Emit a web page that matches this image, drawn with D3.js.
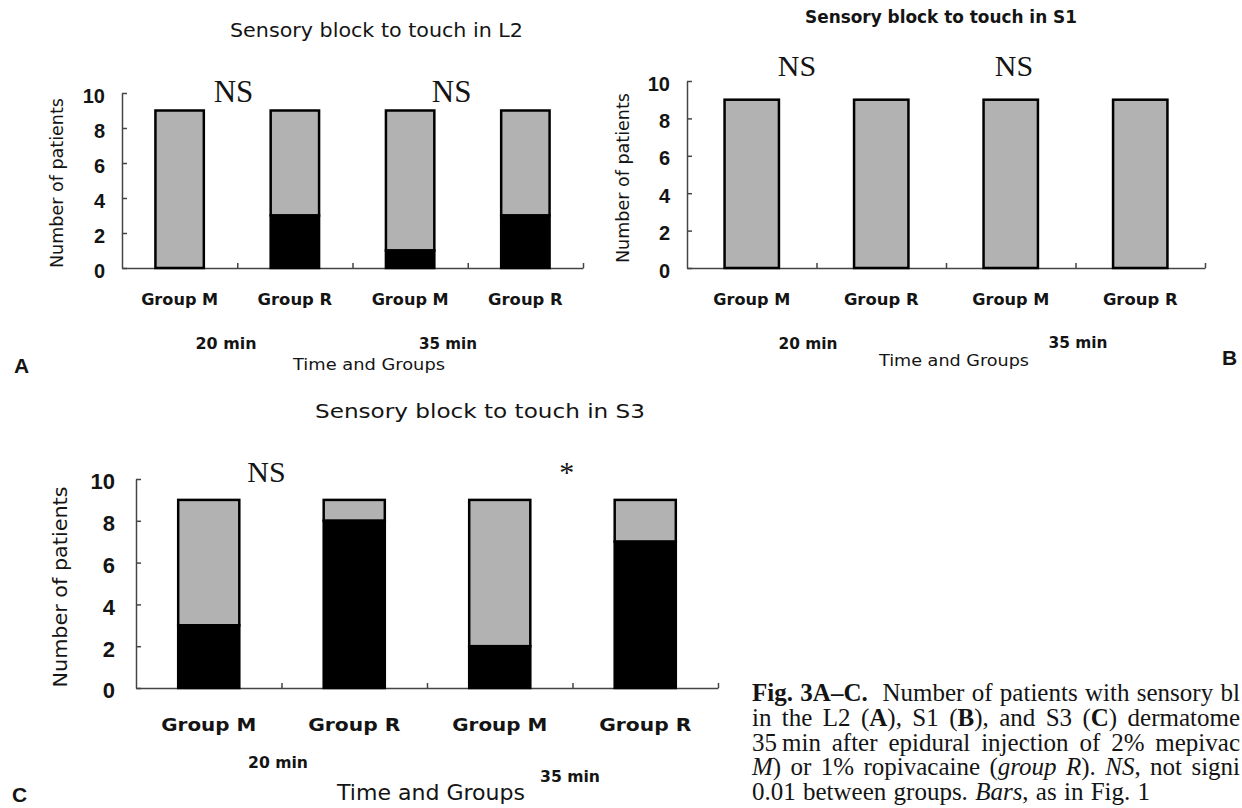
<!DOCTYPE html>
<html>
<head>
<meta charset="utf-8">
<script src="https://cdn.jsdelivr.net/npm/d3@7"></script>
<style>
  html, body { margin: 0; padding: 0; background: #fff; overflow: hidden; }
  svg { display: block; }
</style>
</head>
<body>
<svg id="fig" width="1242" height="808"></svg>
<script>
// ---- data ---------------------------------------------------------------
// Bars along the x axis: two groups, each measured at two times
const groups = ["Group M", "Group R", "Group M", "Group R"];
const times = ["20 min", "35 min"];
const yTicks = [0, 2, 4, 6, 8, 10];

// Number of patients per bar (whole bar) and with sensory block (black part)
const totalL2 = [9, 9, 9, 9];
const blockL2 = [0, 3, 1, 3];
const totalS1 = [9, 9, 9, 9];
const blockS1 = [0, 0, 0, 0];
const totalS3 = [9, 9, 9, 9];
const blockS3 = [3, 8, 2, 7];

// Significance marks for each time point
const sigL2 = ["NS", "NS"];
const sigS1 = ["NS", "NS"];
const sigS3 = ["NS", "*"];

const titles = [
  "Sensory block to touch in L2",
  "Sensory block to touch in S1",
  "Sensory block to touch in S3"
];

// ---- styling / layout -----------------------------------------------------
const SANS = "'DejaVu Sans', 'Noto Sans', sans-serif";
const DIGITS = "'Liberation Sans', Arial, sans-serif";
const SERIF = "'Liberation Serif', 'Times New Roman', serif";
const INK = "#141414";
const GRAY = "#b2b2b2";
const AXIS = "#444";

const panels = [
  { letter: "A", title: titles[0], total: totalL2, block: blockL2, sig: sigL2,
    x0: 122, x1: 583, yTop: 93, yBase: 268,
    titleX: 376.5, titleY: 37, titleSize: 19, titleW: 293, titleWeight: "normal",
    sigAt: [0.967, 2.86], sigY: 102, sigSize: 31,
    tickSize: 20, tickPad: 17,
    yTitleX: 63, yTitleY: 183, yTitleSize: 17, yTitleW: 170,
    groupY: 305, groupSize: 15, groupW: 77,
    timeX: [226, 448], timeY: [349, 349], timeSize: 15, timeW: [61, 58],
    axisTitleX: 369, axisTitleY: 370, axisTitleSize: 16, axisTitleW: 152,
    letterX: 14, letterY: 373, letterSize: 21 },
  { letter: "B", title: titles[1], total: totalS1, block: blockS1, sig: sigS1,
    x0: 687, x1: 1205, yTop: 81, yBase: 268,
    titleX: 941, titleY: 23, titleSize: 17, titleW: 272, titleWeight: "bold",
    sigAt: [0.849, 2.525], sigY: 76, sigSize: 30,
    tickSize: 20, tickPad: 17,
    yTitleX: 629, yTitleY: 178, yTitleSize: 17, yTitleW: 170,
    groupY: 305, groupSize: 15, groupW: 77,
    timeX: [808, 1078], timeY: [349, 348], timeSize: 15, timeW: [59, 59],
    axisTitleX: 954, axisTitleY: 366, axisTitleSize: 16, axisTitleW: 150,
    letterX: 1222, letterY: 365, letterSize: 21 },
  { letter: "C", title: titles[2], total: totalS3, block: blockS3, sig: sigS3,
    x0: 136, x1: 718, yTop: 479, yBase: 688,
    titleX: 480, titleY: 418, titleSize: 20, titleW: 330, titleWeight: "normal",
    sigAt: [0.897, 2.96], sigY: 482, sigSize: 30,
    tickSize: 22, tickPad: 21,
    yTitleX: 67, yTitleY: 587, yTitleSize: 20, yTitleW: 201,
    groupY: 731, groupSize: 18, groupW: 95,
    timeX: [278, 570], timeY: [768, 782], timeSize: 15, timeW: [60, 60],
    axisTitleX: 431, axisTitleY: 800, axisTitleSize: 21, axisTitleW: 188,
    letterX: 12, letterY: 802, letterSize: 21 }
];

const svg = d3.select("#fig");

function put(g, o) {
  const t = g.append("text")
    .attr("x", o.x).attr("y", o.y)
    .attr("font-family", o.family || SANS)
    .attr("font-size", o.size)
    .attr("font-weight", o.weight || "normal")
    .attr("text-anchor", o.anchor || "middle")
    .attr("fill", INK)
    .text(o.text);
  if (o.w) t.attr("textLength", o.w).attr("lengthAdjust", "spacingAndGlyphs");
  if (o.rotate) t.attr("transform", `rotate(${o.rotate},${o.x},${o.y})`);
  return t;
}

panels.forEach(p => {
  const g = svg.append("g").attr("class", "panel-" + p.letter);

  const x = d3.scaleBand()
    .domain(d3.range(groups.length))
    .range([p.x0, p.x1])
    .paddingInner(0.58)
    .paddingOuter(0.29);
  const slot = d3.scaleLinear().domain([0, groups.length]).range([p.x0, p.x1]);
  const y = d3.scaleLinear().domain([0, 10]).range([p.yBase, p.yTop]);

  // x axis: baseline with small upward separators between bars
  const xAxis = g.append("g")
    .attr("transform", `translate(0,${p.yBase})`)
    .call(d3.axisBottom(slot)
      .tickValues(d3.range(1, groups.length + 1))
      .tickSizeInner(-5).tickSizeOuter(0)
      .tickFormat(""));

  // y axis: inward ticks, bold numbers
  const yAxis = g.append("g")
    .attr("transform", `translate(${p.x0},0)`)
    .call(d3.axisLeft(y)
      .tickValues(yTicks)
      .tickSizeInner(-5).tickSizeOuter(0)
      .tickPadding(p.tickPad)
      .tickFormat(d3.format("d")));

  [xAxis, yAxis].forEach(a => {
    a.selectAll("path, line").attr("stroke", AXIS).attr("stroke-width", 1.5);
  });
  yAxis.selectAll("text")
    .attr("font-family", DIGITS)
    .attr("font-size", p.tickSize)
    .attr("font-weight", "bold")
    .attr("fill", INK)
    .attr("dy", "0.45em");

  // stacked bars: black = blocked patients, gray = remainder
  const rows = groups.map((name, i) => ({ i, total: p.total[i], block: p.block[i] }));
  const bars = g.append("g");
  bars.selectAll("rect.rest")
    .data(rows)
    .join("rect")
    .attr("class", "rest")
    .attr("x", d => x(d.i))
    .attr("width", x.bandwidth())
    .attr("y", d => y(d.total))
    .attr("height", d => y(d.block) - y(d.total))
    .attr("fill", GRAY)
    .attr("stroke", "#000")
    .attr("stroke-width", 2.5);
  bars.selectAll("rect.block")
    .data(rows.filter(d => d.block > 0))
    .join("rect")
    .attr("class", "block")
    .attr("x", d => x(d.i))
    .attr("width", x.bandwidth())
    .attr("y", d => y(d.block))
    .attr("height", d => y(0) - y(d.block))
    .attr("fill", "#000")
    .attr("stroke", "#000")
    .attr("stroke-width", 2.5);

  // title
  put(g, { text: p.title, x: p.titleX, y: p.titleY, size: p.titleSize,
           weight: p.titleWeight, w: p.titleW });

  // significance marks
  p.sig.forEach((s, k) => {
    put(g, { text: s, x: slot(p.sigAt[k]), y: p.sigY, size: p.sigSize, family: SERIF });
  });

  // y axis title
  put(g, { text: "Number of patients", x: p.yTitleX, y: p.yTitleY,
           size: p.yTitleSize, w: p.yTitleW, rotate: -90 });

  // category labels
  groups.forEach((name, i) => {
    put(g, { text: name, x: x(i) + x.bandwidth() / 2, y: p.groupY,
             size: p.groupSize, weight: "bold",
             w: name === "Group M" ? p.groupW : p.groupW * 0.97 });
  });

  // time labels
  times.forEach((t, k) => {
    put(g, { text: t, x: p.timeX[k], y: p.timeY[k], size: p.timeSize,
             weight: "bold", w: p.timeW[k] });
  });

  // x axis title
  put(g, { text: "Time and Groups", x: p.axisTitleX, y: p.axisTitleY,
           size: p.axisTitleSize, w: p.axisTitleW });

  // panel letter
  put(g, { text: p.letter, x: p.letterX, y: p.letterY, size: p.letterSize,
           weight: "bold", anchor: "start", family: DIGITS });
});

// ---- figure caption (the column runs past the right edge of the page) -----
const captionLines = [
  { width: 488, parts: [["Fig. 3A–C.", "b"], ["  Number of patients with sensory bl", ""]] },
  { width: 488, parts: [["in the L2 (", ""], ["A", "b"], ["), S1 (", ""], ["B", "b"], ["), and S3 (", ""], ["C", "b"], [") dermatome", ""]] },
  { width: 488, parts: [["35\u2009min after epidural injection of 2% mepivac", ""]] },
  { width: 488, parts: [["M", "i"], [") or 1% ropivacaine (", ""], ["group R", "i"], ["). ", ""], ["NS", "i"], [", not signi", ""]] },
  { width: 398, parts: [["0.01 between groups. ", ""], ["Bars", "i"], [", as in Fig. 1", ""]] }
];

const cap = svg.append("g").attr("class", "caption");
captionLines.forEach((line, k) => {
  const t = cap.append("text")
    .attr("x", 752)
    .attr("y", 701 + k * 24.8)
    .attr("font-family", SERIF)
    .attr("font-size", 25)
    .attr("fill", INK)
    .style("white-space", "pre");
  line.parts.forEach(([txt, st]) => {
    t.append("tspan")
      .attr("font-weight", st === "b" ? "bold" : "normal")
      .attr("font-style", st === "i" ? "italic" : "normal")
      .text(txt);
  });
  // justify: spread the remaining room over the word gaps
  const natural = t.node().getComputedTextLength();
  const gaps = line.parts.map(d => d[0]).join("").split(" ").length - 1;
  const extra = Math.max(0, line.width - natural);
  if (gaps > 0) t.style("word-spacing", (extra / gaps).toFixed(2) + "px");
});
</script>
</body>
</html>
